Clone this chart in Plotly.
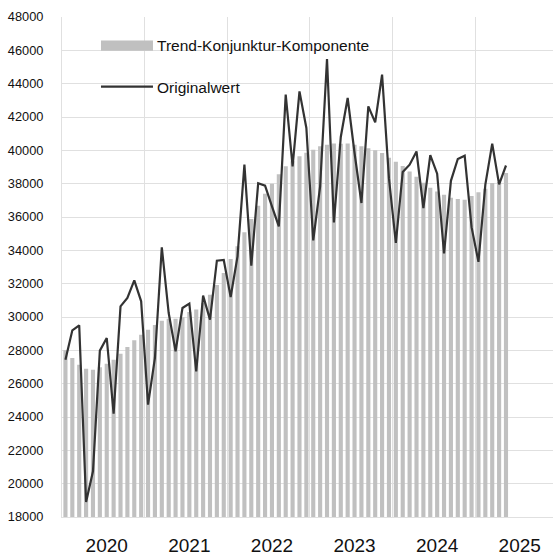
import plotly.graph_objects as go

# Monthly data, Jan 2020 .. May 2025
months = [f"{y}-{m:02d}" for y in range(2020, 2026) for m in range(1, 13)][:65]

trend = [
    28000, 27540, 27140, 26900, 26840, 26980, 27200, 27440, 27800, 28200, 28600, 28940,
    29240, 29520, 29780, 29900, 29900, 29980, 30300, 30450, 30840, 31340, 31920, 32640,
    33480, 34240, 35080, 35880, 36680, 37400, 38000, 38560, 39040, 39340, 39640, 39860,
    40030, 40240, 40340, 40410, 40400, 40410, 40330, 40250, 40120, 40000, 39840, 39560,
    39310, 39060, 38730, 38420, 38060, 37750, 37530, 37330, 37150, 37080, 37040, 37260,
    37480, 37700, 38040, 38100, 38640,
]

original = [
    27440, 29200, 29500, 18900, 20740, 27980, 28740, 24200, 30640, 31140, 32200, 30940,
    24740, 27540, 34180, 30240, 27940, 30540, 30800, 26740, 31280, 29840, 33380, 33420,
    31200, 33640, 39140, 33080, 38020, 37880, 36640, 35440, 43340, 39040, 43540, 41340,
    34600, 37840, 45480, 35680, 40800, 43140, 39840, 36840, 42640, 41680, 44540, 38300,
    34440, 38700, 39140, 39930, 36540, 39710, 38600, 33810, 38170, 39480, 39680, 35390,
    33310, 37940, 40400, 37960, 39090,
]

year_labels = ["2020", "2021", "2022", "2023", "2024", "2025"]
year_label_pos = [6, 18, 30, 42, 54, 66]

legend_names = ["Trend-Konjunktur-Komponente", "Originalwert"]

x = list(range(len(months)))

GRID = "#e0e0e0"
BAR = "#c0c0c0"
LINE = "#333333"
FONT = "Liberation Sans, Arial, sans-serif"

fig = go.Figure()
fig.add_bar(x=x, y=trend, width=0.6, marker=dict(color=BAR, line=dict(width=0)),
            name=legend_names[0], hovertext=months)
fig.add_scatter(x=x, y=original, mode="lines", line=dict(color=LINE, width=2.2),
                name=legend_names[1], hovertext=months)

fig.update_layout(
    width=553, height=559,
    margin=dict(l=62, r=0, t=17, b=42),
    plot_bgcolor="white", paper_bgcolor="white",
    showlegend=False,
    font=dict(family=FONT, color="#111111"),
)

fig.update_xaxes(
    range=[-0.5, 70.83], automargin=False,
    tickmode="array", tickvals=year_label_pos, ticktext=year_labels,
    showgrid=False, zeroline=False,
    showline=True, linecolor=GRID, linewidth=1,
    minor=dict(showgrid=True, tick0=-0.5, dtick=12, gridcolor=GRID, gridwidth=1),
    tickfont=dict(family=FONT, size=19, color="#111111"),
    ticks="", ticklabelstandoff=11,
)
fig.update_yaxes(
    range=[18000, 48000], tick0=18000, dtick=2000, tickformat="d", automargin=False,
    showgrid=True, gridcolor=GRID, gridwidth=1, zeroline=False,
    showline=True, linecolor=GRID, linewidth=1,
    tickfont=dict(family=FONT, size=12.8, color="#111111"),
    ticks="", ticklabelstandoff=15,
)

# Custom legend drawn in plot (paper) coordinates
fig.add_shape(type="rect", xref="paper", yref="paper",
              x0=0.0794, x1=0.1853, y0=0.9326, y1=0.9532,
              fillcolor=BAR, line=dict(width=0))
fig.add_shape(type="line", xref="paper", yref="paper",
              x0=0.0794, x1=0.1853, y0=0.8606, y1=0.8606,
              line=dict(color=LINE, width=2.2))
fig.add_annotation(xref="paper", yref="paper", x=0.190, y=0.9426,
                   xanchor="left", yanchor="middle", showarrow=False,
                   text=legend_names[0],
                   font=dict(family=FONT, size=15.5, color="#111111"))
fig.add_annotation(xref="paper", yref="paper", x=0.190, y=0.8596,
                   xanchor="left", yanchor="middle", showarrow=False,
                   text=legend_names[1],
                   font=dict(family=FONT, size=15.5, color="#111111"))

# remove the browser's default 8px body margin so the figure sits at the window corner
fig.write_html("out.html", config={"displayModeBar": False},
               post_script="document.body.style.margin='0';")
